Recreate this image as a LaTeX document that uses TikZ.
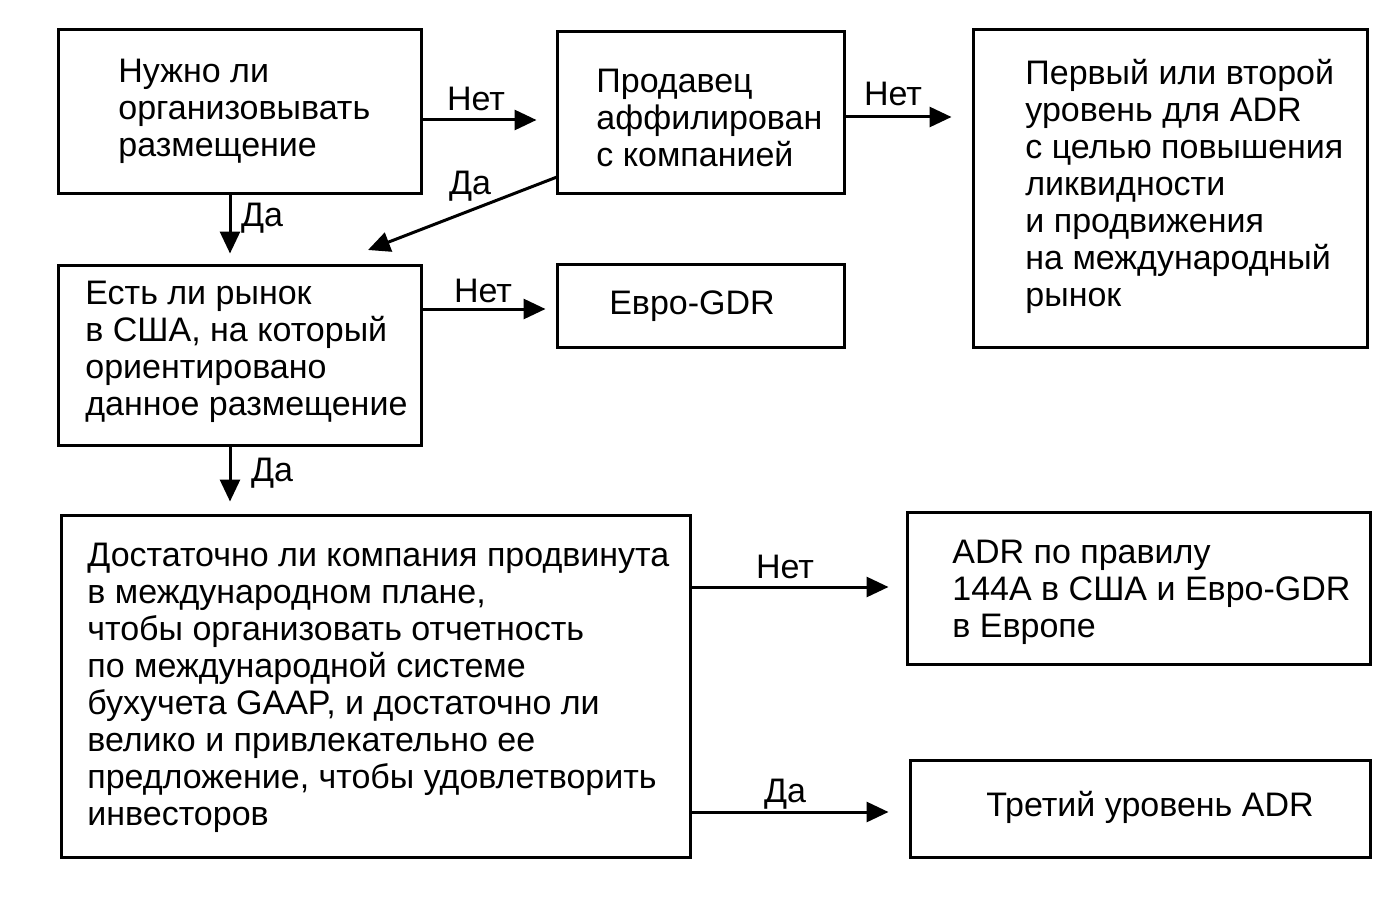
\documentclass[tikz,border=0pt]{standalone}
\usepackage{fontspec}
\setmainfont{Liberation Sans}
\usetikzlibrary{arrows.meta,fit}
\begin{document}
\begin{tikzpicture}[x=0.5pt,y=-0.5pt,
  box/.style={draw,line width=1.5pt,inner sep=0pt},
  txt/.style={align=left,anchor=west,inner sep=0pt,font=\fontsize{17}{18.5}\selectfont},
  lbl/.style={inner sep=0pt,font=\fontsize{17}{18.5}\selectfont},
  arr/.style={line width=1.5pt,-{Triangle[length=11pt,width=10pt]}}]
\useasboundingbox[fill=white] (0,0) rectangle (1397,915);
% boxes
\node[box,fit={(58,30) (421,193)}] (b1) {};
\node[box,fit={(557,32) (844,193)}] (b2) {};
\node[box,fit={(973,30) (1367,347)}] (b3) {};
\node[box,fit={(58,265) (421,445)}] (b4) {};
\node[box,fit={(557,264) (844,347)}] (b5) {};
\node[box,fit={(61,515) (690,857)}] (b6) {};
\node[box,fit={(907,512) (1370,664)}] (b7) {};
\node[box,fit={(910,760) (1370,857)}] (b8) {};
% texts
\node[txt] (t1) at (118,111) {Нужно ли\\организовывать\\размещение};
\node[txt] (t2) at (596,118) {Продавец\\аффилирован\\с компанией};
\node[txt] (t3) at (1025,186) {Первый или второй\\уровень для ADR\\с целью повышения\\ликвидности\\и продвижения\\на международный\\рынок};
\node[txt] (t4) at (85,352) {Есть ли рынок\\в США, на который\\ориентировано\\данное размещение};
\node[lbl] (t5) at (692,306) {Евро-GDR};
\node[txt] (t6) at (87,688) {Достаточно ли компания продвинута\\в международном плане,\\чтобы организовать отчетность\\по международной системе\\бухучета GAAP, и достаточно ли\\велико и привлекательно ее\\предложение, чтобы удовлетворить\\инвесторов};
\node[txt] (t7) at (952,592) {ADR по правилу\\144А в США и Евро-GDR\\в Европе};
\node[lbl] (t8) at (1150,807) {Третий уровень ADR};
% arrow levels
\coordinate (y1) at (0,120);
\coordinate (y2) at (0,117);
\coordinate (y4) at (0,309);
\coordinate (y6a) at (0,587);
\coordinate (y6b) at (0,812);
\coordinate (x1) at (230,0);
\coordinate (e2) at (368,250);
\coordinate (s2) at (557,177);
% connectors
\draw[arr,shorten >=9.5pt] (b1.east |- y1) -- (b2.west |- y1);
\draw[arr,shorten >=10pt] (b2.east |- y2) -- (b3.west |- y2);
\draw[arr,shorten >=5pt] (b1.south -| x1) -- (b4.north -| x1);
\draw[arr] (s2) -- (e2);
\draw[arr,shorten >=5pt] (b4.east |- y4) -- (b5.west |- y4);
\draw[arr,shorten >=6pt] (b4.south -| x1) -- (b6.north -| x1);
\draw[arr,shorten >=8.5pt] (b6.east |- y6a) -- (b7.west |- y6a);
\draw[arr,shorten >=10pt] (b6.east |- y6b) -- (b8.west |- y6b);
% labels
\node[lbl] (l1) at (476,99) {Нет};
\node[lbl] (l2) at (893,94) {Нет};
\node[lbl] (l3) at (262,218) {Да};
\node[lbl] (l4) at (470,186) {Да};
\node[lbl] (l5) at (483,291) {Нет};
\node[lbl] (l6) at (272,473) {Да};
\node[lbl] (l7) at (785,567) {Нет};
\node[lbl] (l8) at (785,794) {Да};
\end{tikzpicture}
\end{document}
